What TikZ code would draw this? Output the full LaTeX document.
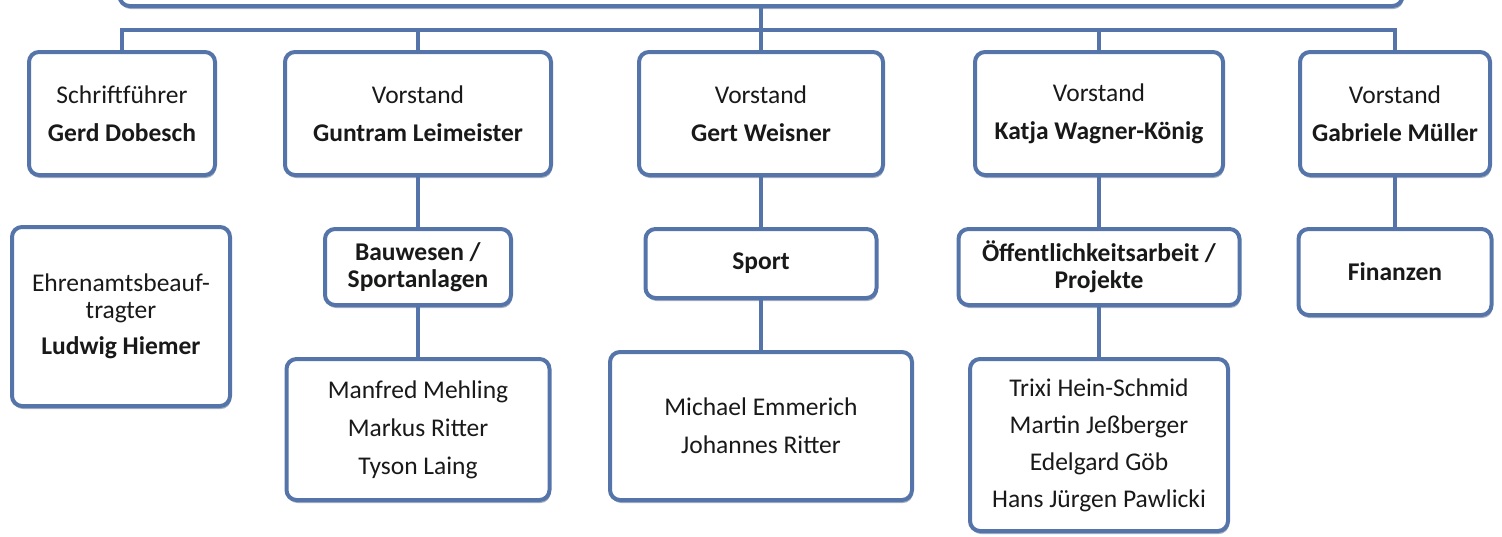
\documentclass[tikz,border=0pt]{standalone}
\usepackage{fontspec}
\setmainfont{Carlito}
\usepackage{xcolor}
\usetikzlibrary{shadows}
\definecolor{boxblue}{RGB}{84,116,170}
\definecolor{textgray}{RGB}{25,25,25}

\begin{document}
\begin{tikzpicture}[
    x=1pt, y=-1pt,
    box/.style={
        draw=boxblue,
        line width=4pt,
        rounded corners=10pt,
        fill=white,
        inner sep=0pt,
        align=center,
        text=textgray,
        font=\fontsize{25.5}{27}\selectfont,
        drop shadow={shadow xshift=1pt, shadow yshift=-3pt, opacity=0.45, fill=boxblue!70!black}
    },
    link/.style={draw=boxblue, line width=4pt}
]
\useasboundingbox (0,0) rectangle (1502,536);

% Nodes
\node[box, minimum width=1283, minimum height=120, anchor=south] (vorsitz) at (761,8) {};

\node[box, minimum width=186, minimum height=123] (sf) at (122,113.5) {Schriftführer \\[11pt] \textbf{Gerd Dobesch}};
\node[box, minimum width=266, minimum height=123] (gl) at (418,113.5) {Vorstand \\[11pt] \textbf{Guntram Leimeister}};
\node[box, minimum width=244, minimum height=123] (gw) at (761,113.5) {Vorstand \\[11pt] \textbf{Gert Weisner}};
\node[box, minimum width=248, minimum height=123] (kw) at (1099,113.5) {Vorstand \\[11pt] \textbf{Katja Wagner-König}};
\node[box, minimum width=190, minimum height=123] (gm) at (1395,113.5) {Vorstand \\[11pt] \textbf{Gabriele Müller}};

\node[box, minimum width=218, minimum height=179] (eb) at (121,316.5) {Ehrenamtsbeauf-\\tragter \\[9pt] \textbf{Ludwig Hiemer}};
\node[box, minimum width=186, minimum height=76] (bw) at (418,267) {\textbf{Bauwesen /}\\\textbf{Sportanlagen}};
\node[box, minimum width=231, minimum height=69] (sp) at (761,263.5) {\textbf{Sport}};
\node[box, minimum width=281, minimum height=76] (oe) at (1099,267) {\textbf{Öffentlichkeitsarbeit /}\\\textbf{Projekte}};
\node[box, minimum width=193, minimum height=86] (fi) at (1395,272) {\textbf{Finanzen}};

\node[box, minimum width=263, minimum height=141] (mm) at (418,429.5) {Manfred Mehling \\[11pt] Markus Ritter \\[11pt] Tyson Laing};
\node[box, minimum width=302, minimum height=148] (me) at (761,426) {Michael Emmerich \\[11pt] Johannes Ritter};
\node[box, minimum width=258, minimum height=172] (th) at (1099,445) {Trixi Hein-Schmid \\[10pt] Martin Jeßberger \\[10pt] Edelgard Göb \\[10pt] Hans Jürgen Pawlicki};

% Connections
\coordinate (bus) at (761,30);
\draw[link] (vorsitz.south) -- (bus);
\draw[link] (sf.north) |- (bus) -| (gm.north);
\foreach \n in {gl,gw,kw}
    \draw[link] (\n.north) -- (\n.north |- bus);

\draw[link] (gl) -- (bw);
\draw[link] (gw) -- (sp);
\draw[link] (kw) -- (oe);
\draw[link] (gm) -- (fi);

\draw[link] (bw) -- (mm);
\draw[link] (sp) -- (me);
\draw[link] (oe) -- (th);

\end{tikzpicture}
\end{document}
